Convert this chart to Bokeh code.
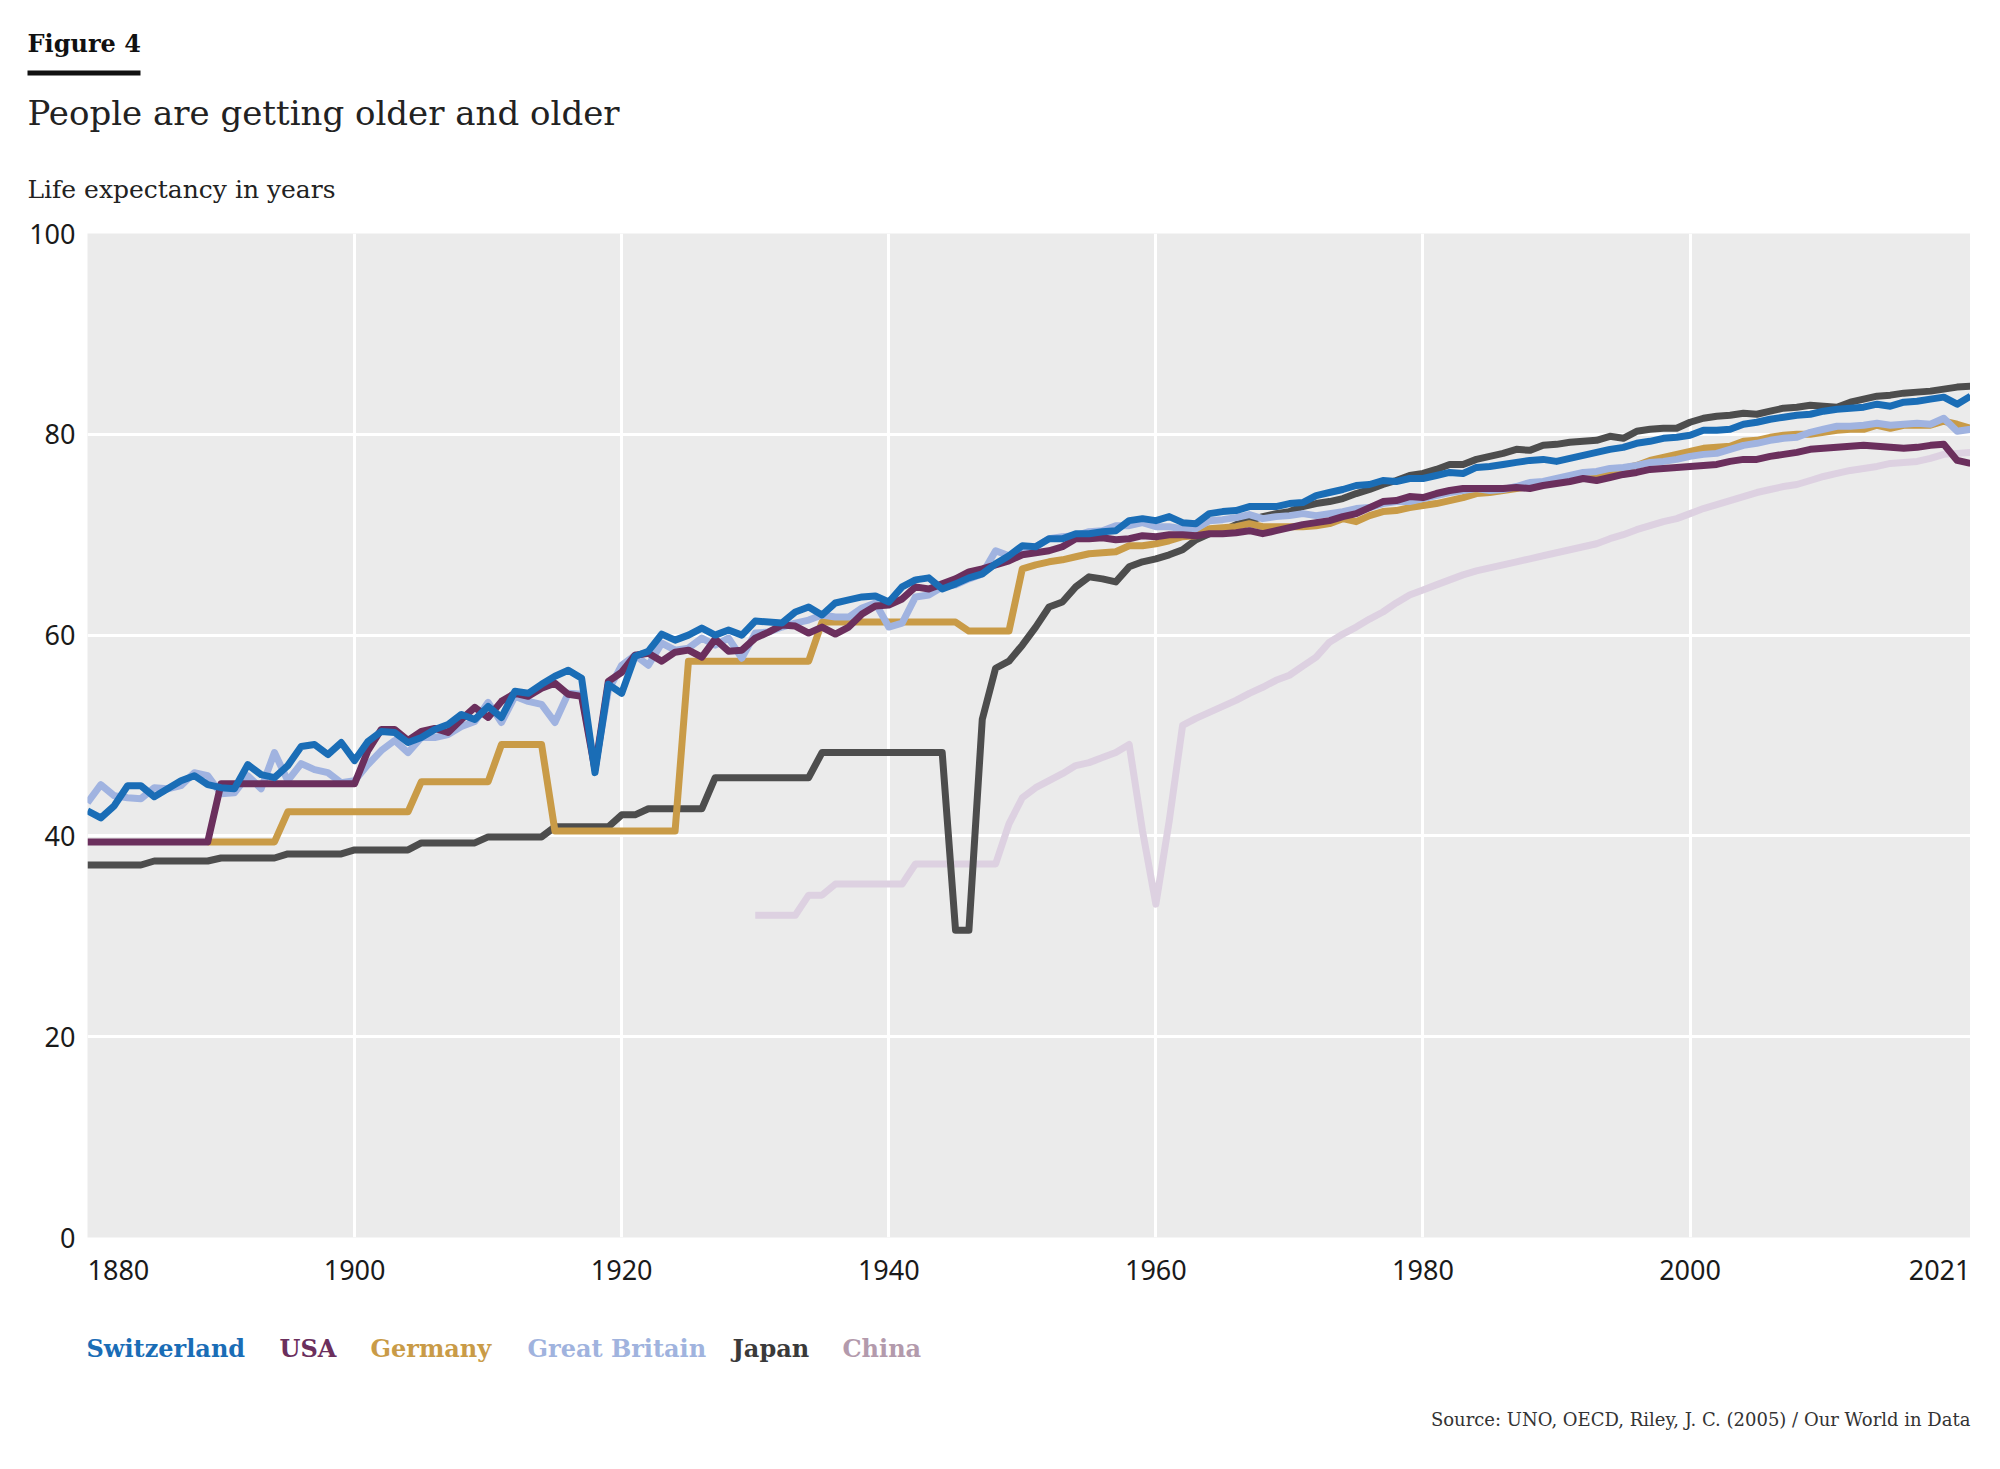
from bokeh.plotting import figure
from bokeh.layouts import column
from bokeh.models import Range1d, FixedTicker
from bokeh.core.properties import value
from bokeh.embed import file_html
from bokeh.resources import INLINE

# ---------------- data ----------------
years_all = list(range(1880, 2022))

switzerland = [
    42.5, 41.8, 43.0, 45.0, 45.0, 43.9, 44.7, 45.5, 46.0, 45.1, 44.8, 44.7, 47.1, 46.1, 45.8, 47.0, 48.9, 49.1, 48.1, 49.3,
    47.5, 49.4, 50.4, 50.3, 49.3, 49.8, 50.6, 51.1, 52.1, 51.6, 52.9, 51.8, 54.4, 54.2, 55.1, 55.9, 56.5, 55.7, 46.3, 55.1,
    54.2, 57.9, 58.4, 60.1, 59.5, 60.0, 60.7, 60.0, 60.5, 60.0, 61.4, 61.3, 61.2, 62.3, 62.8, 62.0, 63.2, 63.5, 63.8, 63.9,
    63.3, 64.8, 65.5, 65.7, 64.6, 65.1, 65.7, 66.1, 67.1, 67.9, 68.9, 68.8, 69.6, 69.6, 70.1, 70.1, 70.3, 70.4, 71.4, 71.6,
    71.4, 71.8, 71.2, 71.1, 72.1, 72.3, 72.4, 72.8, 72.8, 72.8, 73.1, 73.2, 73.9, 74.2, 74.5, 74.9, 75.0, 75.4, 75.3, 75.6,
    75.6, 75.9, 76.2, 76.1, 76.7, 76.8, 77.0, 77.2, 77.4, 77.5, 77.3, 77.6, 77.9, 78.2, 78.5, 78.7, 79.1, 79.3, 79.6, 79.7,
    79.9, 80.4, 80.4, 80.5, 81.0, 81.2, 81.5, 81.7, 81.9, 82.0, 82.3, 82.5, 82.6, 82.7, 83.0, 82.8, 83.2, 83.3, 83.5, 83.7,
    83.0, 83.8,
]

usa = [
    39.4, 39.4, 39.4, 39.4, 39.4, 39.4, 39.4, 39.4, 39.4, 39.4, 45.2, 45.2, 45.2, 45.2, 45.2, 45.2, 45.2, 45.2, 45.2, 45.2,
    45.2, 48.5, 50.6, 50.6, 49.5, 50.4, 50.7, 50.3, 51.6, 52.8, 51.8, 53.4, 54.2, 53.9, 54.7, 55.2, 54.1, 53.9, 46.6, 55.4,
    56.3, 58.0, 58.2, 57.4, 58.3, 58.5, 57.8, 59.6, 58.4, 58.5, 59.7, 60.3, 61.0, 60.9, 60.2, 60.8, 60.1, 60.8, 62.1, 62.9,
    63.0, 63.6, 64.8, 64.6, 65.1, 65.6, 66.3, 66.6, 67.0, 67.4, 68.0, 68.2, 68.4, 68.8, 69.6, 69.6, 69.7, 69.5, 69.6, 69.9,
    69.8, 70.0, 70.0, 69.9, 70.1, 70.1, 70.2, 70.4, 70.1, 70.4, 70.7, 71.0, 71.2, 71.4, 71.8, 72.1, 72.7, 73.3, 73.4, 73.8,
    73.7, 74.1, 74.4, 74.6, 74.6, 74.6, 74.6, 74.7, 74.6, 74.9, 75.1, 75.3, 75.6, 75.4, 75.7, 76.0, 76.2, 76.5, 76.6, 76.7,
    76.8, 76.9, 77.0, 77.3, 77.5, 77.5, 77.8, 78.0, 78.2, 78.5, 78.6, 78.7, 78.8, 78.9, 78.8, 78.7, 78.6, 78.7, 78.9, 79.0,
    77.4, 77.1,
]

great_britain = [
    43.3, 45.1, 44.0, 43.8, 43.7, 44.8, 44.7, 45.0, 46.3, 46.0, 44.2, 44.3, 46.0, 44.7, 48.3, 45.5, 47.2, 46.6, 46.3, 45.3,
    45.5, 47.1, 48.5, 49.5, 48.3, 49.8, 49.8, 50.1, 50.9, 51.4, 53.3, 51.3, 53.9, 53.4, 53.1, 51.3, 54.2, 54.1, 46.8, 54.5,
    57.0, 58.0, 57.0, 59.2, 58.5, 58.7, 59.7, 59.0, 59.7, 57.7, 60.2, 60.3, 60.8, 61.2, 61.5, 62.0, 61.8, 61.8, 62.7, 63.2,
    60.8, 61.2, 63.8, 64.0, 64.8, 65.0, 65.6, 66.1, 68.4, 67.9, 68.3, 68.8, 69.6, 69.8, 69.9, 70.3, 70.4, 70.9, 70.9, 71.2,
    70.8, 70.8, 70.6, 70.6, 71.4, 71.5, 71.7, 72.0, 71.6, 71.8, 71.9, 72.1, 71.9, 72.1, 72.3, 72.6, 72.7, 73.1, 73.3, 73.3,
    73.6, 73.9, 74.2, 74.4, 74.6, 74.4, 74.5, 74.8, 75.2, 75.3, 75.6, 75.9, 76.2, 76.3, 76.6, 76.7, 76.9, 77.2, 77.3, 77.5,
    77.8, 78.0, 78.1, 78.5, 78.9, 79.1, 79.4, 79.6, 79.7, 80.2, 80.5, 80.8, 80.8, 80.9, 81.1, 80.9, 81.0, 81.1, 81.0, 81.6,
    80.3, 80.5,
]

japan = [
    37.1, 37.1, 37.1, 37.1, 37.1, 37.5, 37.5, 37.5, 37.5, 37.5, 37.8, 37.8, 37.8, 37.8, 37.8, 38.2, 38.2, 38.2, 38.2, 38.2,
    38.6, 38.6, 38.6, 38.6, 38.6, 39.3, 39.3, 39.3, 39.3, 39.3, 39.9, 39.9, 39.9, 39.9, 39.9, 40.9, 40.9, 40.9, 40.9, 40.9,
    42.1, 42.1, 42.7, 42.7, 42.7, 42.7, 42.7, 45.8, 45.8, 45.8, 45.8, 45.8, 45.8, 45.8, 45.8, 48.3, 48.3, 48.3, 48.3, 48.3,
    48.3, 48.3, 48.3, 48.3, 48.3, 30.6, 30.6, 51.6, 56.7, 57.4, 59.0, 60.8, 62.8, 63.3, 64.8, 65.8, 65.6, 65.3, 66.8, 67.3,
    67.6, 68.0, 68.5, 69.5, 70.1, 70.4, 71.0, 71.4, 71.8, 72.1, 72.3, 72.8, 73.1, 73.3, 73.6, 74.1, 74.5, 75.0, 75.4, 75.9,
    76.1, 76.5, 77.0, 77.0, 77.5, 77.8, 78.1, 78.5, 78.4, 78.9, 79.0, 79.2, 79.3, 79.4, 79.8, 79.6, 80.3, 80.5, 80.6, 80.6,
    81.2, 81.6, 81.8, 81.9, 82.1, 82.0, 82.3, 82.6, 82.7, 82.9, 82.8, 82.7, 83.2, 83.5, 83.8, 83.9, 84.1, 84.2, 84.3, 84.5,
    84.7, 84.8,
]

germany_years = list(range(1889, 2022))
germany = [
    39.4,
    39.4, 39.4, 39.4, 39.4, 39.4, 42.4, 42.4, 42.4, 42.4, 42.4,
    42.4, 42.4, 42.4, 42.4, 42.4, 45.4, 45.4, 45.4, 45.4, 45.4, 45.4, 49.1, 49.1, 49.1, 49.1, 40.5, 40.5, 40.5, 40.5, 40.5,
    40.5, 40.5, 40.5, 40.5, 40.5, 57.4, 57.4, 57.4, 57.4, 57.4, 57.4, 57.4, 57.4, 57.4, 57.4, 61.3, 61.3, 61.3, 61.3, 61.3,
    61.3, 61.3, 61.3, 61.3, 61.3, 61.3, 60.4, 60.4, 60.4, 60.4, 66.6, 67.0, 67.3, 67.5, 67.8, 68.1, 68.2, 68.3, 68.9, 68.9,
    69.1, 69.4, 69.8, 69.9, 70.6, 70.7, 70.8, 71.1, 70.8, 70.8, 70.8, 70.8, 70.9, 71.1, 71.6, 71.3, 71.9, 72.3, 72.4, 72.7,
    72.9, 73.1, 73.4, 73.7, 74.1, 74.2, 74.4, 74.6, 74.8, 75.1, 75.4, 75.5, 75.9, 76.0, 76.3, 76.6, 76.9, 77.4, 77.7, 78.0,
    78.3, 78.6, 78.7, 78.8, 79.3, 79.4, 79.7, 79.9, 80.0, 80.0, 80.2, 80.4, 80.5, 80.5, 80.9, 80.6, 80.9, 80.9, 80.9, 81.3,
    81.0, 80.6,
]

china_years = list(range(1930, 2022))
china = [
    32.1, 32.1, 32.1, 32.1, 34.1, 34.1, 35.2, 35.2, 35.2, 35.2,
    35.2, 35.2, 37.2, 37.2, 37.2, 37.2, 37.2, 37.2, 37.2, 41.2, 43.8, 44.8, 45.5, 46.2, 47.0, 47.3, 47.8, 48.3, 49.1, 40.5,
    33.2, 41.5, 51.0, 51.7, 52.3, 52.9, 53.5, 54.2, 54.8, 55.5, 56.0, 56.9, 57.8, 59.3, 60.1, 60.8, 61.6, 62.3, 63.2, 64.0,
    64.5, 65.0, 65.5, 66.0, 66.4, 66.7, 67.0, 67.3, 67.6, 67.9, 68.2, 68.5, 68.8, 69.1, 69.6, 70.0, 70.5, 70.9, 71.3, 71.6,
    72.1, 72.6, 73.0, 73.4, 73.8, 74.2, 74.5, 74.8, 75.0, 75.4, 75.8, 76.1, 76.4, 76.6, 76.8, 77.1, 77.2, 77.3, 77.6, 78.0,
    78.1, 78.2,
]

series_names = ["Switzerland", "USA", "Germany", "Great Britain", "Japan", "China"]
line_colors = ["#1a6db6", "#6b2f5d", "#c99b47", "#a0b3e0", "#4d4d4d", "#ddd1e1"]
legend_colors = ["#1a6db6", "#6b2f5d", "#c99b47", "#a0b3de", "#3a3a3a", "#b39aac"]

x_ticks = [1880, 1900, 1920, 1940, 1960, 1980, 2000, 2021]
y_ticks = [0, 20, 40, 60, 80, 100]

title_text = "People are getting older and older"
subtitle_text = "Life expectancy in years"
figure_label = "Figure 4"
source_text = "Source: UNO, OECD, Riley, J. C. (2005) / Our World in Data"

# ---------------- layout constants (page pixels) ----------------
W = 2000
MAIN_W = 1970           # main canvas ends at the frame's right edge, so "2021" stays flush right
HEADER_H = 208          # page y 0 .. 208
MAIN_H = 1092           # page y 208 .. 1300
FOOTER_H = 150          # page y 1300 .. 1450
SERIF = value("DejaVu Serif")
FIG_SPACE = "\u2007"    # digit-wide space: keeps the first label flush with the frame's left edge


def text_panel(height, y0):
    f = figure(width=W, height=height, output_backend="svg", toolbar_location=None,
               x_range=Range1d(0, W), y_range=Range1d(y0 + height, y0),
               x_axis_location=None, y_axis_location=None,
               min_border=0, min_border_left=0, min_border_right=0,
               min_border_top=0, min_border_bottom=0)
    f.frame_align = False
    f.grid.visible = False
    f.outline_line_color = None
    f.background_fill_color = "white"
    f.border_fill_color = "white"
    return f


# ---------------- header ----------------
header = text_panel(HEADER_H, 0)
header.text(x=[27], y=[43], text=[figure_label], text_font=SERIF, text_font_style="bold",
            text_font_size="24px", text_color="#111111", text_baseline="middle", text_align="left")
header.quad(left=[27], right=[140], top=[70], bottom=[75], fill_color="#111111", line_color=None)
header.text(x=[27], y=[112], text=[title_text], text_font=SERIF, text_font_size="34px",
            text_color="#222222", text_baseline="middle", text_align="left")
header.text(x=[27], y=[189], text=[subtitle_text], text_font=SERIF, text_font_size="25px",
            text_color="#222222", text_baseline="middle", text_align="left")

# ---------------- main chart ----------------
p = figure(width=MAIN_W, height=MAIN_H, output_backend="svg", toolbar_location=None,
           x_range=Range1d(1880, 2021), y_range=Range1d(0, 100),
           min_border_left=87, min_border_right=0, min_border_top=25, min_border_bottom=63)
p.frame_align = False
p.background_fill_color = "#ebebeb"
p.border_fill_color = "white"
p.outline_line_color = None

for ax in (p.xaxis[0], p.yaxis[0]):
    ax.axis_line_color = None
    ax.major_tick_line_color = None
    ax.minor_tick_line_color = None
    ax.major_tick_in = 0
    ax.major_tick_out = 0
    ax.major_label_text_font = "Noto Sans"
    ax.major_label_text_font_size = "27px"
    ax.major_label_text_color = "#1a1a1a"

p.xaxis[0].ticker = FixedTicker(ticks=x_ticks)
p.yaxis[0].ticker = FixedTicker(ticks=y_ticks)
first = x_ticks[0]
p.xaxis[0].major_label_overrides = {first: FIG_SPACE * len(str(first)) + str(first)}
p.xaxis[0].major_label_standoff = 13
p.yaxis[0].major_label_standoff = 12

p.xgrid[0].ticker = FixedTicker(ticks=x_ticks)
p.ygrid[0].ticker = FixedTicker(ticks=y_ticks)
for g in (p.xgrid[0], p.ygrid[0]):
    g.grid_line_color = "white"
    g.grid_line_width = 3

data = {
    "Switzerland": (years_all, switzerland),
    "USA": (years_all, usa),
    "Germany": (germany_years, germany),
    "Great Britain": (years_all, great_britain),
    "Japan": (years_all, japan),
    "China": (china_years, china),
}
order = ["China", "Japan", "Germany", "Great Britain", "USA", "Switzerland"]
for name in order:
    xs, ys = data[name]
    c = line_colors[series_names.index(name)]
    p.line(xs, ys, line_color=c, line_width=7, line_join="round")

# ---------------- footer: legend + source ----------------
footer = text_panel(FOOTER_H, HEADER_H + MAIN_H)
legend_x = [86, 279, 370, 527, 732, 842]
for name, lx, lc in zip(series_names, legend_x, legend_colors):
    footer.text(x=[lx], y=[1348], text=[name], text_font=SERIF, text_font_style="bold",
                text_font_size="24px", text_color=lc, text_baseline="middle", text_align="left")
footer.text(x=[1970], y=[1419], text=[source_text], text_font=SERIF, text_font_size="18px",
            text_color="#333333", text_baseline="middle", text_align="right")

layout = column(header, p, footer, spacing=0)
open("out.html", "w").write(file_html(layout, INLINE))
